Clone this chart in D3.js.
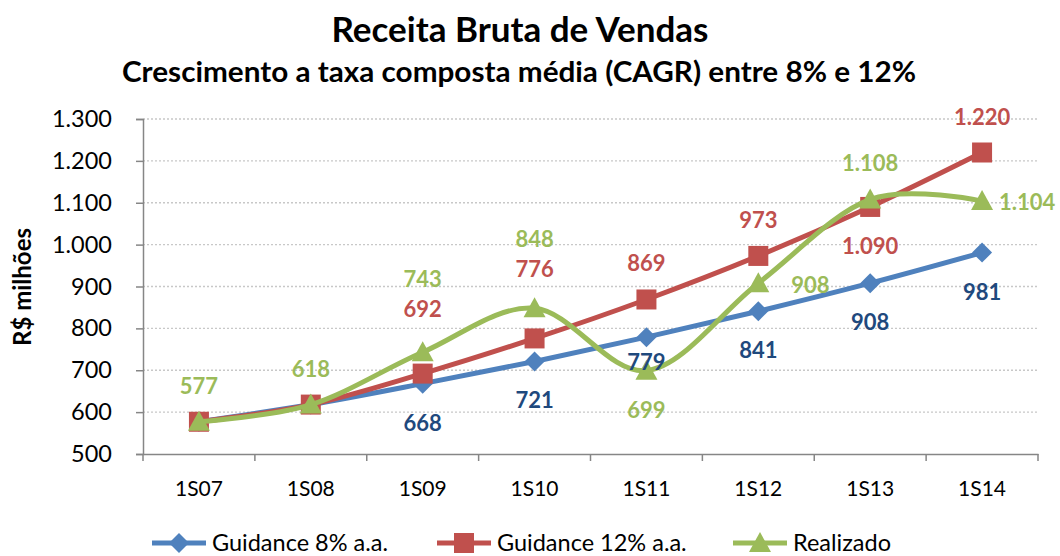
<!DOCTYPE html>
<html lang="pt">
<head>
<meta charset="UTF-8">
<title>Receita Bruta de Vendas</title>
<script src="https://d3js.org/d3.v7.min.js"></script>
<style>
  body { margin: 0; background: #fff; }
  svg text { font-family: Lato, "Open Sans", sans-serif; }
</style>
</head>
<body>
<svg width="1060" height="556" id="grafico"></svg>
<script>
// dados
var periodos = ["1S07", "1S08", "1S09", "1S10", "1S11", "1S12", "1S13", "1S14"];
var guidance8 = [577, 618, 668, 721, 779, 841, 908, 981];
var guidance12 = [577, 618, 692, 776, 869, 973, 1090, 1220];
var realizado = [577, 618, 743, 848, 699, 908, 1108, 1104];
var yTicks = [500, 600, 700, 800, 900, 1000, 1100, 1200, 1300];

// onde aparece cada rótulo (null = sem rótulo)
var rotulos8 = [null, null, "below", "below", "below2", "below", "below", "below"];
var rotulos12 = [null, null, "above2b", "above2", "above", "above", "below", "above"];
var rotulosReal = ["above", "above", "above2a", "above2", "below", "right2", "above", "right"];

var svg = d3.select("svg"),
    margin = { top: 119, right: 22, bottom: 102, left: 143 },
    width = +svg.attr("width") - margin.left - margin.right,
    height = +svg.attr("height") - margin.top - margin.bottom;

var x = d3.scaleBand().domain(periodos).range([0, width]);
var y = d3.scaleLinear().domain([500, 1300]).range([height, 0]);

var fmt = function (v) { return d3.format(",")(v).replace(/,/g, "."); };

// titulos
svg.append("text").attr("x", 520).attr("y", 42)
    .attr("text-anchor", "middle").attr("font-size", 35).attr("font-weight", "bold")
    .text("Receita Bruta de Vendas");
svg.append("text").attr("x", 519).attr("y", 82)
    .attr("text-anchor", "middle").attr("font-size", 29).attr("font-weight", "bold")
    .attr("textLength", 794).attr("lengthAdjust", "spacingAndGlyphs")
    .text("Crescimento a taxa composta média (CAGR) entre 8% e 12%");

svg.append("text")
    .attr("transform", "translate(31,287) rotate(-90)")
    .attr("text-anchor", "middle").attr("font-size", 24).attr("font-weight", "bold")
    .text("R$ milhões");

var g = svg.append("g").attr("transform", "translate(" + margin.left + "," + margin.top + ")");

// grade
g.selectAll(".grid").data(yTicks.slice(1)).enter().append("line")
    .attr("x1", 0).attr("x2", width)
    .attr("y1", function (d) { return y(d); }).attr("y2", function (d) { return y(d); })
    .attr("stroke", "#c8c8c8").attr("stroke-width", 1.3).attr("stroke-dasharray", "2,2");

// eixos
var yAxis = d3.axisLeft(y).tickValues(yTicks).tickSize(7).tickPadding(24).tickFormat(fmt);
var ya = g.append("g").call(yAxis);
ya.select(".domain").attr("stroke", "#868686").attr("stroke-width", 1.5);
ya.selectAll(".tick line").attr("stroke", "#868686").attr("stroke-width", 1.5);
ya.selectAll("text").attr("font-size", 23.5).attr("fill", "#000").attr("font-family", "Lato, sans-serif");

var xa = g.append("g").attr("transform", "translate(0," + height + ")")
    .call(d3.axisBottom(x).tickSize(0).tickPadding(27));
xa.select(".domain").attr("stroke", "#868686").attr("stroke-width", 1.5);
xa.selectAll("text").attr("font-size", 21).attr("fill", "#000").attr("font-family", "Lato, sans-serif");
// marcas entre categorias
var limites = periodos.map(function (p) { return x(p); }).concat([width]);
xa.selectAll(".sep").data(limites).enter().append("line")
    .attr("x1", function (d) { return d; }).attr("x2", function (d) { return d; })
    .attr("y1", 0).attr("y2", 7)
    .attr("stroke", "#868686").attr("stroke-width", 1.5);

var cx = function (i) { return x(periodos[i]) + x.bandwidth() / 2; };

var line = d3.line()
    .x(function (d, i) { return cx(i); })
    .y(function (d) { return y(d); })
    .curve(d3.curveCardinal.tension(0));

var series = [
  { nome: "Guidance 8% a.a.", valores: guidance8, cor: "#4F81BD", rotuloCor: "#1F497D", forma: "diamond", rot: rotulos8 },
  { nome: "Guidance 12% a.a.", valores: guidance12, cor: "#C0504D", rotuloCor: "#C0504D", forma: "square", rot: rotulos12 },
  { nome: "Realizado", valores: realizado, cor: "#9BBB59", rotuloCor: "#9BBB59", forma: "triangle", rot: rotulosReal }
];

function marcador(sel, forma, cor) {
  if (forma === "diamond") {
    sel.append("path").attr("d", "M0,-10L10,0L0,10L-10,0Z").attr("fill", cor);
  } else if (forma === "square") {
    sel.append("rect").attr("x", -10).attr("y", -10).attr("width", 20).attr("height", 20).attr("fill", cor);
  } else {
    sel.append("path").attr("d", "M0,-11L11,9L-11,9Z").attr("fill", cor);
  }
}

series.forEach(function (s) {
  g.append("path").datum(s.valores)
      .attr("d", line).attr("fill", "none")
      .attr("stroke", s.cor).attr("stroke-width", 5).attr("stroke-linejoin", "round");
  s.valores.forEach(function (v, i) {
    var m = g.append("g").attr("transform", "translate(" + cx(i) + "," + y(v) + ")");
    marcador(m, s.forma, s.cor);
  });
});

// rotulos de dados
var desloc = {
  above: [0, -28], above2: [0, -61], above2a: [0, -65], above2b: [0, -57],
  below: [0, 47], below2: [0, 33], right: [17, 9], right2: [33, 10]
};
series.forEach(function (s) {
  s.valores.forEach(function (v, i) {
    var r = s.rot[i];
    if (!r) return;
    var d = desloc[r];
    g.append("text")
        .attr("x", cx(i) + d[0]).attr("y", y(v) + d[1])
        .attr("text-anchor", r.indexOf("right") === 0 ? "start" : "middle")
        .attr("font-size", 22).attr("font-weight", "bold")
        .attr("fill", s.rotuloCor)
        .text(fmt(v));
  });
});

// legenda
var legX = [152, 437, 733];
series.forEach(function (s, i) {
  var lg = svg.append("g").attr("transform", "translate(" + legX[i] + ",543)");
  lg.append("line").attr("x1", 0).attr("x2", 54).attr("y1", 0).attr("y2", 0)
      .attr("stroke", s.cor).attr("stroke-width", 5);
  var m = lg.append("g").attr("transform", "translate(27,0)");
  marcador(m, s.forma, s.cor);
  lg.append("text").attr("x", 60).attr("y", 8).attr("font-size", 23.5).text(s.nome);
});
</script>
</body>
</html>
